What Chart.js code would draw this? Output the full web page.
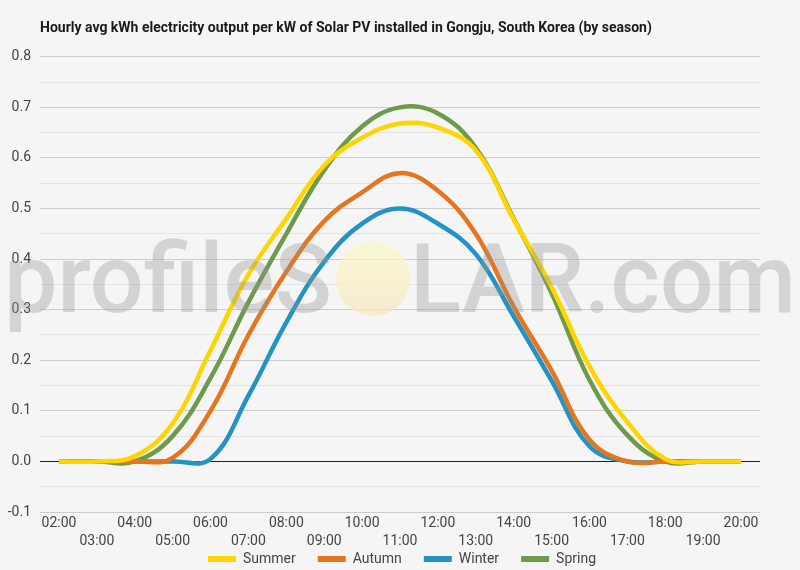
<!DOCTYPE html>
<html>
<head>
<meta charset="utf-8">
<script src="https://cdn.jsdelivr.net/npm/chart.js@4"></script>
<style>
  html, body { margin: 0; padding: 0; background: #f5f5f5; }
  #wrap { width: 800px; height: 570px; }
</style>
</head>
<body>
<div id="wrap"><canvas id="chart" width="800" height="570"></canvas></div>
<script>
// ====== Data ======
const hours = ['02:00', '03:00', '04:00', '05:00', '06:00', '07:00', '08:00', '09:00', '10:00', '11:00',
  '12:00', '13:00', '14:00', '15:00', '16:00', '17:00', '18:00', '19:00', '20:00'];
const summer = [0, 0, 0.01, 0.075, 0.22, 0.37, 0.48, 0.585, 0.64, 0.668, 0.66, 0.615, 0.478, 0.345, 0.188, 0.078, 0.005, 0, 0];
const autumn = [0, 0, 0, 0.007, 0.10, 0.25, 0.375, 0.475, 0.532, 0.57, 0.535, 0.45, 0.306, 0.18, 0.043, 0, 0, 0, 0];
const winter = [0, 0, 0, 0, 0.005, 0.13, 0.275, 0.395, 0.47, 0.50, 0.47, 0.41, 0.287, 0.16, 0.03, 0, 0, 0, 0];
const spring = [0, 0, 0, 0.05, 0.165, 0.315, 0.45, 0.576, 0.662, 0.70, 0.688, 0.62, 0.48, 0.333, 0.161, 0.052, 0, 0, 0];
const yTicks = [-0.1, 0.0, 0.1, 0.2, 0.3, 0.4, 0.5, 0.6, 0.7, 0.8];

const FONT = 'Roboto, "Noto Sans", sans-serif';

// ====== Plugins ======
const background = {
  id: 'background',
  beforeDraw(chart) {
    const c = chart.ctx;
    c.save();
    c.fillStyle = '#f5f5f5';
    c.fillRect(0, 0, chart.width, chart.height);
    c.restore();
  }
};

// nudge title / legend into place, let the two-row x labels show
const placement = {
  id: 'placement',
  afterLayout(chart) {
    chart.titleBlock.left += 40;
    chart.titleBlock.right += 40;
    chart.legend.left += 22;
    chart.legend.right += 22;
    chart.scales.x.bottom = chart.height;
  }
};

const watermark = {
  id: 'watermark',
  afterDatasetsDraw(chart) {
    const c = chart.ctx;
    const base = 312, cx = 373, cy = 279, r = 37;
    c.save();
    // sun circle in place of the O
    const g = c.createLinearGradient(0, cy - r, 0, cy + r);
    g.addColorStop(0, 'rgba(250,248,200,0.75)');
    g.addColorStop(1, 'rgba(250,230,195,0.75)');
    c.fillStyle = g;
    c.beginPath();
    c.arc(cx, cy, r, 0, Math.PI * 2);
    c.fill();
    c.font = '500 96px ' + FONT;
    c.textBaseline = 'alphabetic';
    c.fillStyle = 'rgba(150,150,150,0.35)';
    c.fillText('profileS', 4, base, 328);
    c.fillText('LAR.com', 410, base, 386);
    c.restore();
  }
};

// ====== Chart ======
const line = (label, data, color) => ({
  label, data,
  borderColor: color,
  backgroundColor: color,
  borderWidth: 4.5,
  pointRadius: 0,
  tension: 0.4,
  fill: false
});

const ctx = document.getElementById('chart').getContext('2d');
const chart = new Chart(ctx, {
  type: 'line',
  data: {
    labels: hours,
    datasets: [
      line('Summer', summer, '#FFD500'),
      line('Autumn', autumn, '#E5761F'),
      line('Winter', winter, '#2293C4'),
      line('Spring', spring, '#6E9A4B')
    ]
  },
  plugins: [background, placement, watermark],
  options: {
    responsive: false,
    animation: false,
    layout: { padding: { left: 0, right: 40, top: 0, bottom: -6 } },
    plugins: {
      title: {
        display: true,
        text: 'Hourly avg kWh electricity output per kW of Solar PV installed in Gongju, South Korea (by season)',
        align: 'start',
        color: '#1a1a1a',
        font: { family: FONT, size: 14, weight: 'bold' },
        padding: { top: 20, bottom: 20 }
      },
      legend: {
        position: 'bottom',
        labels: {
          color: '#444',
          font: { family: FONT, size: 14 },
          boxWidth: 28,
          boxHeight: 6,
          padding: 22,
          generateLabels(chart) {
            return Chart.defaults.plugins.legend.labels.generateLabels(chart).map(it => {
              it.lineWidth = 0;
              it.fillStyle = it.strokeStyle;
              return it;
            });
          }
        }
      },
      tooltip: { enabled: false }
    },
    scales: {
      x: {
        offset: true,
        grid: { display: false, drawTicks: false },
        border: { display: false },
        ticks: {
          autoSkip: false,
          maxRotation: 0,
          padding: 2,
          color: '#444',
          font: { family: FONT, size: 14, lineHeight: 1.3 },
          callback(v, i) { return i % 2 === 0 ? hours[i] : ['', hours[i]]; }
        },
        afterFit(s) { s.height = 18; }
      },
      y: {
        min: yTicks[0],
        max: yTicks[yTicks.length - 1],
        border: { display: false },
        grid: {
          drawTicks: false,
          lineWidth: 1,
          color(c) {
            const v = Math.round(c.tick.value * 100);
            if (v === 0) return '#222';
            return v % 10 === 0 ? '#cccccc' : '#e3e3e3';
          }
        },
        ticks: {
          stepSize: 0.05,
          padding: 9,
          color: '#444',
          font: { family: FONT, size: 14 },
          callback(v) {
            const n = Math.round(v * 100);
            return n % 10 === 0 ? (n / 100).toFixed(1) : '';
          }
        },
        afterFit(s) { s.width = 40; }
      }
    }
  }
});
</script>
</body>
</html>
